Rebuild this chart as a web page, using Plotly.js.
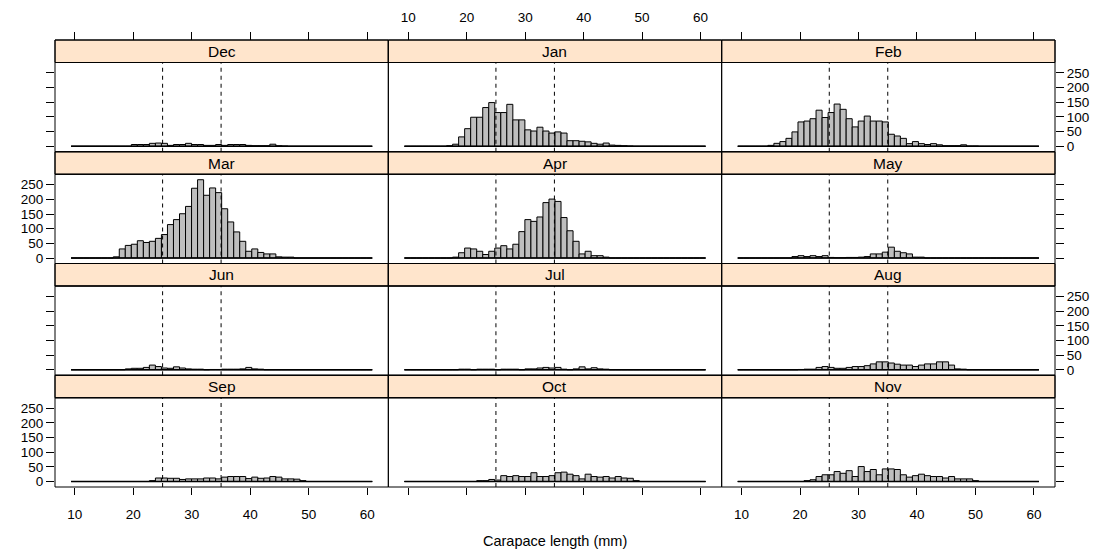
<!DOCTYPE html>
<html>
<head>
<meta charset="utf-8">
<script src="https://cdn.plot.ly/plotly-3.0.1.min.js"></script>
<style>html,body{margin:0;padding:0;background:#fff;}#chart{width:1101px;height:555px;}</style>
</head>
<body>
<div id="chart"></div>
<script>
// ---- data ----
const months = ['Dec','Jan','Feb','Mar','Apr','May','Jun','Jul','Aug','Sep','Oct','Nov'];
const countsDec = [0,0,0,0,0,0,0,0,0,0, 6,6,6,10,11, 10,3,6,6,10, 6,6,3,3,6, 3,6,6,6,3, 2,2,2,7,2, 1,0,0,0,0, 0,0,0,0,0, 0,0,0,0,0];
const countsJan = [0,0,0,0,0, 0,0,2,7,32, 60,99,99,132,149, 115,115,143,90,90, 56,52,65,52,45, 49,45,19,19,17, 15,10,7,11,4, 3,2,1,0,0, 0,0,0,0,0, 0,0,0,0,0];
const countsFeb = [0,0,0,0,0, 3,10,16,27,49, 83,86,94,123,98, 115,144,126,94,66, 86,103,86,86,83, 41,35,27,9,16, 9,6,9,5,2, 2,2,5,1,1, 0,0,0,0,0, 0,0,0,0,0];
const countsMar = [0,0,0,0,0, 0,0,4,31,43, 47,59,53,57,67, 80,114,131,151,176, 238,267,214,239,223, 168,123,89,57,23, 31,19,14,14,4, 3,3,0,0,0, 0,0,0,0,0, 0,0,0,0,0];
const countsApr = [0,0,0,0,0, 0,0,0,3,18, 34,31,23,12,23, 34,42,31,47,90, 131,125,140,189,201, 193,138,93,57,14, 23,8,8,3,0, 0,0,0,0,0, 0,0,0,0,0, 0,0,0,0,0];
const countsMay = [0,0,0,0,0, 0,0,0,0,5, 8,5,8,5,8, 2,1,1,2,2, 3,5,14,14,20, 37,23,18,14,3, 3,0,0,0,0, 0,0,0,0,0, 0,0,0,0,0, 0,0,0,0,0];
const countsJun = [0,0,0,0,0, 0,0,0,0,3, 5,5,8,16,11, 6,5,10,6,3, 2,2,0,1,1, 2,2,2,3,8, 3,2,0,0,0, 0,0,0,0,0, 0,0,0,0,0, 0,0,0,0,0];
const countsJul = [0,0,0,0,0, 0,0,0,0,2, 2,0,2,2,2, 0,2,2,2,0, 3,3,6,8,6, 8,2,0,3,10, 3,7,3,2,0, 0,0,0,0,0, 0,0,0,0,0, 0,0,0,0,0];
const countsAug = [0,0,0,0,0, 0,0,0,0,0, 1,2,2,8,11, 8,5,5,8,11, 11,14,20,27,27, 23,19,16,16,11, 16,20,20,27,27, 16,3,2,0,0, 0,0,0,0,0, 0,0,0,0,0];
const countsSep = [0,0,0,0,0, 0,0,0,0,0, 0,0,0,3,12, 12,11,11,7,9, 9,9,12,12,9, 15,17,17,17,10, 15,11,12,17,15, 9,9,8,3,0, 0,0,0,0,0, 0,0,0,0,0];
const countsOct = [0,0,0,0,0, 0,0,0,0,0, 0,0,3,3,7, 5,20,17,20,17, 17,30,17,17,20, 30,32,25,20,9, 25,17,15,17,12, 17,12,11,3,0, 0,0,0,0,0, 0,0,0,0,0];
const countsNov = [0,0,0,0,0, 0,0,0,0,0, 0,3,6,17,23, 23,34,28,37,17, 51,34,41,23,43, 43,41,23,15,20, 25,20,17,17,12, 17,9,9,9,3, 0,0,0,0,0, 0,0,0,0,0];
const allCounts = [countsDec,countsJan,countsFeb,countsMar,countsApr,countsMay,countsJun,countsJul,countsAug,countsSep,countsOct,countsNov];
const refLines = [25, 35];
const xTickVals = [10,20,30,40,50,60];
const yTickVals = [0,50,100,150,200,250];
const xTitle = 'Carapace length (mm)';

// ---- geometry / style ----
const W = 1101, H = 555;
const binStart = 9.35, binWidth = 1.03;
const colLeft = [55, 388.33, 721.67], colW = 333.33;
const rowTop = [40, 151.75, 263.5, 375.25], rowH = 111.75, stripH = 22.5;
const xRange = [6.6, 63.6], yRange = [-18.7, 285.7];
const FONT = 'Liberation Sans, Arial, Helvetica, sans-serif';
const px = v => v / W, py = v => 1 - v / H;

const traces = [], shapes = [], annotations = [];
const layout = {
  width: W, height: H, margin: {l:0, r:0, t:0, b:0},
  paper_bgcolor: '#fff', plot_bgcolor: 'rgba(0,0,0,0)',
  showlegend: false, hovermode: false,
  font: {family: FONT, size: 13, color: '#000'}
};

const nb = countsDec.length;
months.forEach((m, i) => {
  const r = Math.floor(i / 3), c = i % 3, n = i + 1;
  const xa = 'x' + n, ya = 'y' + n;
  const counts = allCounts[i];
  const centers = counts.map((_, k) => binStart + (k + 0.5) * binWidth);
  traces.push({
    type: 'scatter', mode: 'lines', xaxis: xa, yaxis: ya,
    x: [binStart, binStart + nb * binWidth], y: [0, 0],
    line: {color: '#000', width: 1.5}
  });
  traces.push({
    type: 'bar', xaxis: xa, yaxis: ya, x: centers, y: counts,
    width: counts.map(() => binWidth),
    marker: {color: '#BEBEBE', line: {color: '#000', width: 1}}
  });
  const L = colLeft[c], R = L + colW, T = rowTop[r], S = T + stripH, B = T + rowH;
  const xax = {
    domain: [px(L), px(R)], range: xRange, anchor: ya,
    showgrid: false, zeroline: false, showline: false,
    tickvals: xTickVals, ticktext: xTickVals.map(String),
    ticks: '', showticklabels: false,
    tickcolor: '#000', tickwidth: 1, ticklen: 7,
    tickfont: {family: FONT, size: 13.5, color: '#000'}
  };
  if (r === 0) {
    Object.assign(xax, {side: 'top', anchor: 'free', position: py(T), ticks: 'outside', showticklabels: c === 1, ticklen: 8, ticklabelstandoff: 5});
  } else if (r === 3) {
    Object.assign(xax, {side: 'bottom', ticks: 'outside', showticklabels: c !== 1, ticklen: 7, ticklabelstandoff: 8});
  }
  const yax = {
    domain: [py(B), py(S)], range: yRange, anchor: xa,
    showgrid: false, zeroline: false, showline: false,
    tickvals: yTickVals, ticktext: yTickVals.map(String),
    ticks: '', showticklabels: false,
    tickcolor: '#000', tickwidth: 1, ticklen: 8,
    tickfont: {family: FONT, size: 13.5, color: '#000'}
  };
  if (c === 0) Object.assign(yax, {side: 'left', ticks: 'outside', showticklabels: r === 1 || r === 3});
  if (c === 2) Object.assign(yax, {side: 'right', ticks: 'outside', showticklabels: r === 0 || r === 2});
  layout['xaxis' + (n === 1 ? '' : n)] = xax;
  layout['yaxis' + (n === 1 ? '' : n)] = yax;

  // strip
  shapes.push({type: 'rect', xref: 'paper', yref: 'paper', x0: px(L), x1: px(R), y0: py(S), y1: py(T),
    fillcolor: '#FFE5CC', line: {color: '#000', width: 1}, layer: 'below'});
  annotations.push({xref: 'paper', yref: 'paper', x: px((L + R) / 2), y: py((T + S) / 2),
    text: m, showarrow: false, xanchor: 'center', yanchor: 'middle',
    font: {family: FONT, size: 15.5, color: '#000'}});
  // reference lines
  refLines.forEach(v => shapes.push({type: 'line', xref: xa, yref: ya + ' domain', x0: v, x1: v, y0: 0, y1: 1,
    line: {color: '#000', width: 1, dash: '4px,4px'}}));
  // panel frame
  shapes.push({type: 'rect', xref: 'paper', yref: 'paper', x0: px(L), x1: px(R), y0: py(B), y1: py(S),
    fillcolor: 'rgba(0,0,0,0)', line: {color: '#000', width: 1}});
  shapes.push({type: 'rect', xref: 'paper', yref: 'paper', x0: px(L), x1: px(R), y0: py(S), y1: py(T),
    fillcolor: 'rgba(0,0,0,0)', line: {color: '#000', width: 1}});
});

annotations.push({xref: 'paper', yref: 'paper', x: px(555), y: py(541), text: xTitle, showarrow: false,
  xanchor: 'center', yanchor: 'middle', font: {family: FONT, size: 14.5, color: '#000'}});
layout.shapes = shapes;
layout.annotations = annotations;

Plotly.newPlot('chart', traces, layout, {displayModeBar: false, staticPlot: true});
</script>
</body>
</html>
